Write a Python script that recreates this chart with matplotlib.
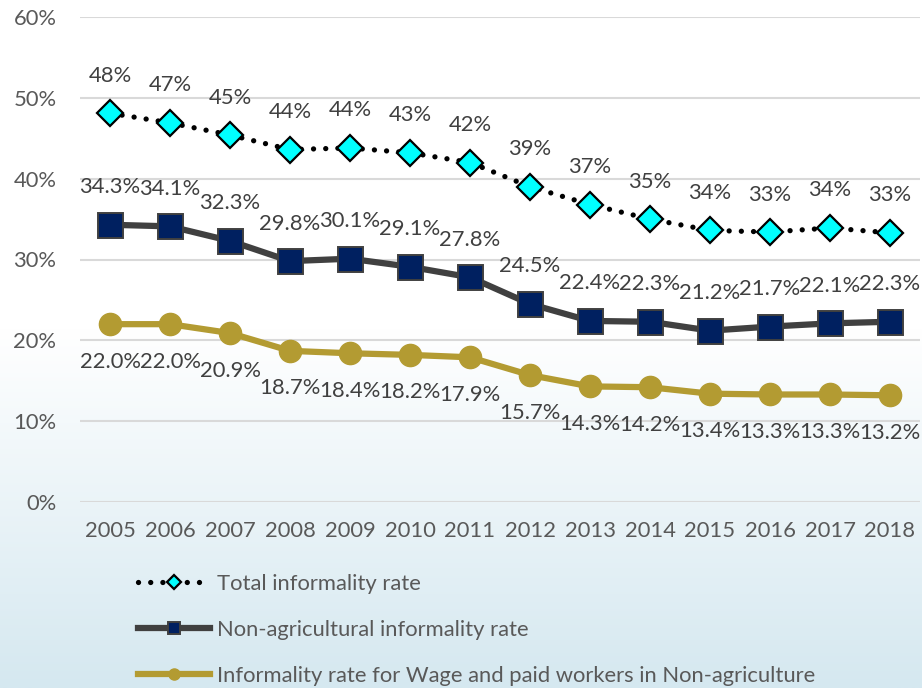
import matplotlib
matplotlib.use("Agg")
import matplotlib.pyplot as plt
import numpy as np

years = ["2005", "2006", "2007", "2008", "2009", "2010", "2011",
         "2012", "2013", "2014", "2015", "2016", "2017", "2018"]
total_rate = [48.1, 46.9, 45.4, 43.6, 43.8, 43.2, 42.0,
              39.0, 36.8, 35.0, 33.6, 33.4, 33.9, 33.3]
nonagri_rate = [34.3, 34.1, 32.3, 29.8, 30.1, 29.1, 27.8,
                24.5, 22.4, 22.3, 21.2, 21.7, 22.1, 22.3]
wage_rate = [22.0, 22.0, 20.9, 18.7, 18.4, 18.2, 17.9,
             15.7, 14.3, 14.2, 13.4, 13.3, 13.3, 13.2]
y_ticks = [0, 10, 20, 30, 40, 50, 60]

plt.rcParams["font.family"] = ["Lato", "DejaVu Sans"]
FS = 15.8
TXT = "#595959"
LBL = "#404040"

W, H = 922, 688
fig = plt.figure(figsize=(W / 100, H / 100), dpi=100)

# background: white top fading into a pale blue at the bottom
bg = fig.add_axes([0, 0, 1, 1], zorder=-10)
bg.set_axis_off()
rows = np.linspace(0, 1, 400)  # 0 = top, 1 = bottom
t = np.clip((rows * H - 330) / (H - 330), 0, 1)
top_c = np.array([255, 255, 255]) / 255
bot_c = np.array([213, 232, 240]) / 255
grad = top_c[None, :] * (1 - t[:, None]) + bot_c[None, :] * t[:, None]
bg.imshow(grad[:, None, :], aspect="auto", extent=[0, 1, 0, 1])
bg.set_xlim(0, 1)
bg.set_ylim(0, 1)

ax = fig.add_axes([80 / W, 1 - 502 / H, 840 / W, 485 / H])
ax.set_facecolor("none")
x = np.arange(len(years))

l1, = ax.plot(x, total_rate, color="black", lw=3.8,
              dashes=(0.01, 2.3), dash_capstyle="round",
              marker="D", ms=13.5, mfc="#00FFFF", mec="black", mew=1.6,
              zorder=4, label="Total informality rate")
l2, = ax.plot(x, nonagri_rate, color="#404040", lw=4.5,
              marker="s", ms=18, mfc="#002060", mec="#404040", mew=1.4,
              zorder=3, label="Non-agricultural informality rate")
l3, = ax.plot(x, wage_rate, color="#B39B32", lw=4.5,
              marker="o", ms=16, mfc="#B39B32", mec="#B39B32", mew=1,
              zorder=2,
              label="Informality rate for Wage and paid workers in Non-agriculture")

for xi, v in zip(x, total_rate):
    ax.annotate(f"{v:.0f}%", (xi, v), xytext=(0, 27), textcoords="offset points",
                ha="center", va="center", fontsize=FS, color=LBL)
for xi, v in zip(x, nonagri_rate):
    ax.annotate(f"{v:.1f}%", (xi, v), xytext=(0, 27), textcoords="offset points",
                ha="center", va="center", fontsize=FS, color=LBL)
for xi, v in zip(x, wage_rate):
    ax.annotate(f"{v:.1f}%", (xi, v), xytext=(0, -27), textcoords="offset points",
                ha="center", va="center", fontsize=FS, color=LBL)

ax.set_xlim(-0.5, len(years) - 0.5)
ax.set_ylim(0, 60)
ax.set_yticks(y_ticks)
ax.set_yticklabels([f"{v}%" for v in y_ticks])
ax.set_xticks(x)
ax.set_xticklabels(years)
ax.tick_params(axis="both", length=0, labelsize=FS, labelcolor=TXT)
ax.tick_params(axis="y", pad=17)
ax.tick_params(axis="x", pad=14)
ax.grid(axis="y", color="#D9D9D9", lw=1.5)
ax.set_axisbelow(True)
for s in ax.spines.values():
    s.set_visible(False)

leg = fig.legend(handles=[l1, l2, l3], loc="upper left",
                 bbox_to_anchor=(138 / W, 1 - 574 / H),
                 frameon=False, fontsize=FS, labelcolor=TXT,
                 handlelength=3.3, handletextpad=0.28, labelspacing=1.18,
                 markerscale=0.5, borderaxespad=0, borderpad=0)

fig.savefig("out.png", dpi=100)
